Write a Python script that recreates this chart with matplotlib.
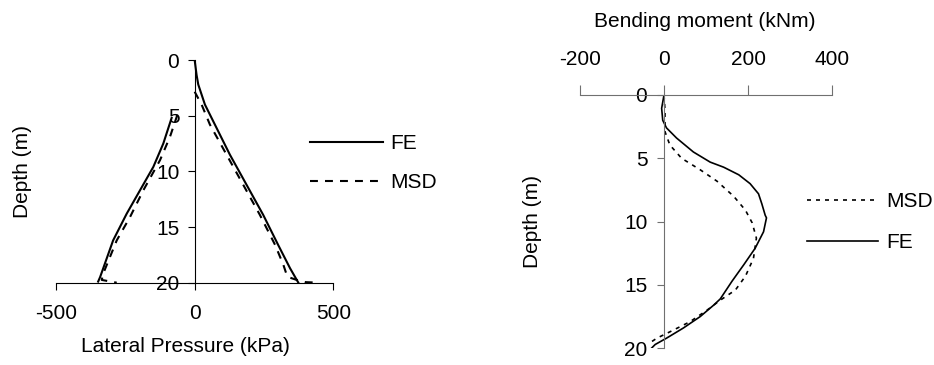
import matplotlib
matplotlib.use('Agg')
import matplotlib.pyplot as plt

plt.rcParams['font.family'] = ['Liberation Sans', 'DejaVu Sans']
plt.rcParams['font.size'] = 15
plt.rcParams['axes.unicode_minus'] = False

# lateral pressure (kPa) vs depth (m)
fe_act_p = [0, 7, 13, 37, 73, 127, 187, 247, 301, 344, 374]
fe_act_d = [0, 1.35, 2.2, 4.0, 5.8, 8.5, 11.2, 13.9, 16.6, 18.7, 20]
msd_act_p = [0, 25, 55, 115, 175, 235, 290, 320, 332, 344, 368, 400, 450]
msd_act_d = [2.85, 4.0, 5.8, 8.5, 11.2, 13.9, 16.6, 18.4, 19.3, 19.55, 19.75, 19.95, 20]
fe_pas_p = [-83, -113, -149, -197, -245, -294, -341, -348]
fe_pas_d = [5.2, 7.5, 9.6, 11.7, 13.8, 16.2, 19.5, 19.9]
msd_pas_p = [-62, -89, -125, -185, -233, -281, -330, -335, -281]
msd_pas_d = [4.9, 6.9, 9.0, 11.7, 14.1, 16.2, 19.2, 19.75, 20]

# bending moment (kNm) vs depth (m)
fe_m = [0, -5.6, -3, 6, 30, 70, 110, 142, 178, 205, 225, 233, 241, 244, 237,
        217, 190, 162, 134, 118, 86, 46, 6, -21, -30]
fe_m_d = [0, 1.05, 2.0, 2.6, 3.4, 4.5, 5.3, 5.7, 6.3, 7.0, 7.8, 8.6, 9.5, 9.7, 10.8,
          12.1, 13.4, 14.7, 16.1, 16.6, 17.5, 18.4, 19.2, 19.7, 20]
msd_m = [0, 2.4, 2.4, 2.4, 14, 42, 86, 126, 166, 194, 210, 220, 213, 194, 170,
         134, 102, 62, 14, -17, -35]
msd_m_d = [0, 1.2, 2.1, 2.9, 3.95, 5.0, 5.9, 6.8, 8.0, 9.1, 10.1, 11.3, 12.9, 14.3, 15.4,
           16.2, 17.0, 17.9, 18.7, 19.2, 19.6]

W, H = 934, 365
fig = plt.figure(figsize=(W / 100, H / 100), dpi=100)

def fr(x0, y0, x1, y1):
    return [x0 / W, 1 - y1 / H, (x1 - x0) / W, (y1 - y0) / H]

# left chart
ax1 = fig.add_axes(fr(56, 60, 333.3, 282.7))
ax1.plot(fe_act_p, fe_act_d, color='black', lw=1.5, label='FE')
ax1.plot(msd_act_p, msd_act_d, color='black', lw=1.5, dashes=(3.8, 3.4), label='MSD')
ax1.plot(fe_pas_p, fe_pas_d, color='black', lw=1.5)
ax1.plot(msd_pas_p, msd_pas_d, color='black', lw=1.5, dashes=(3.8, 3.4))
ax1.set_xlim(-500, 500)
ax1.set_ylim(20, 0)
ax1.set_xticks([-500, 0, 500])
ax1.set_yticks([0, 5, 10, 15, 20])
ax1.spines['left'].set_position(('data', 0))
ax1.spines['top'].set_visible(False)
ax1.spines['right'].set_visible(False)
for s in ['left', 'bottom']:
    ax1.spines[s].set_linewidth(0.8)
ax1.tick_params(axis='x', direction='out', length=5, width=0.8, pad=10)
ax1.tick_params(axis='y', direction='out', length=5, width=0.8, pad=6)
ax1.set_xlabel('Lateral Pressure (kPa)')
ax1.xaxis.set_label_coords(0.465, -0.244)
ax1.set_ylabel('Depth (m)')
ax1.yaxis.set_label_coords(-0.088, 0.5)
ax1.legend(loc='upper left', bbox_to_anchor=(310 / W, 1 - 134 / H),
           bbox_transform=fig.transFigure, frameon=False, borderpad=0,
           borderaxespad=0, handlelength=3.5, handletextpad=0.35, labelspacing=0.95)

# right chart
ax2 = fig.add_axes(fr(580, 95, 832, 348.3))
ax2.plot(msd_m, msd_m_d, color='black', lw=1.2, dashes=(2.4, 3.0), label='MSD')
ax2.plot(fe_m, fe_m_d, color='black', lw=1.2, label='FE')
ax2.set_xlim(-200, 400)
ax2.set_ylim(20, 0)
ax2.set_xticks([-200, 0, 200, 400])
ax2.set_yticks([0, 5, 10, 15, 20])
ax2.xaxis.tick_top()
ax2.xaxis.set_label_position('top')
ax2.spines['left'].set_position(('data', 0))
ax2.spines['bottom'].set_visible(False)
ax2.spines['right'].set_visible(False)
ax2.spines['left'].set_color('#707070')
ax2.spines['top'].set_color('#707070')
for s in ['left', 'top']:
    ax2.spines[s].set_linewidth(0.8)
ax2.tick_params(axis='x', direction='out', length=7, width=0.8, pad=12, color='#707070')
ax2.tick_params(axis='y', direction='out', length=5, width=0.8, pad=7, color='#707070')
ax2.set_xlabel('Bending moment (kNm)')
ax2.xaxis.set_label_coords(0.496, 1.268)
ax2.set_ylabel('Depth (m)')
ax2.yaxis.set_label_coords(-0.151, 0.5)
ax2.legend(loc='upper left', bbox_to_anchor=(806.7 / W, 1 - 192 / H),
           bbox_transform=fig.transFigure, frameon=False, borderpad=0,
           borderaxespad=0, handlelength=3.4, handletextpad=0.4, labelspacing=1.05)

fig.savefig('out.png', dpi=100)
